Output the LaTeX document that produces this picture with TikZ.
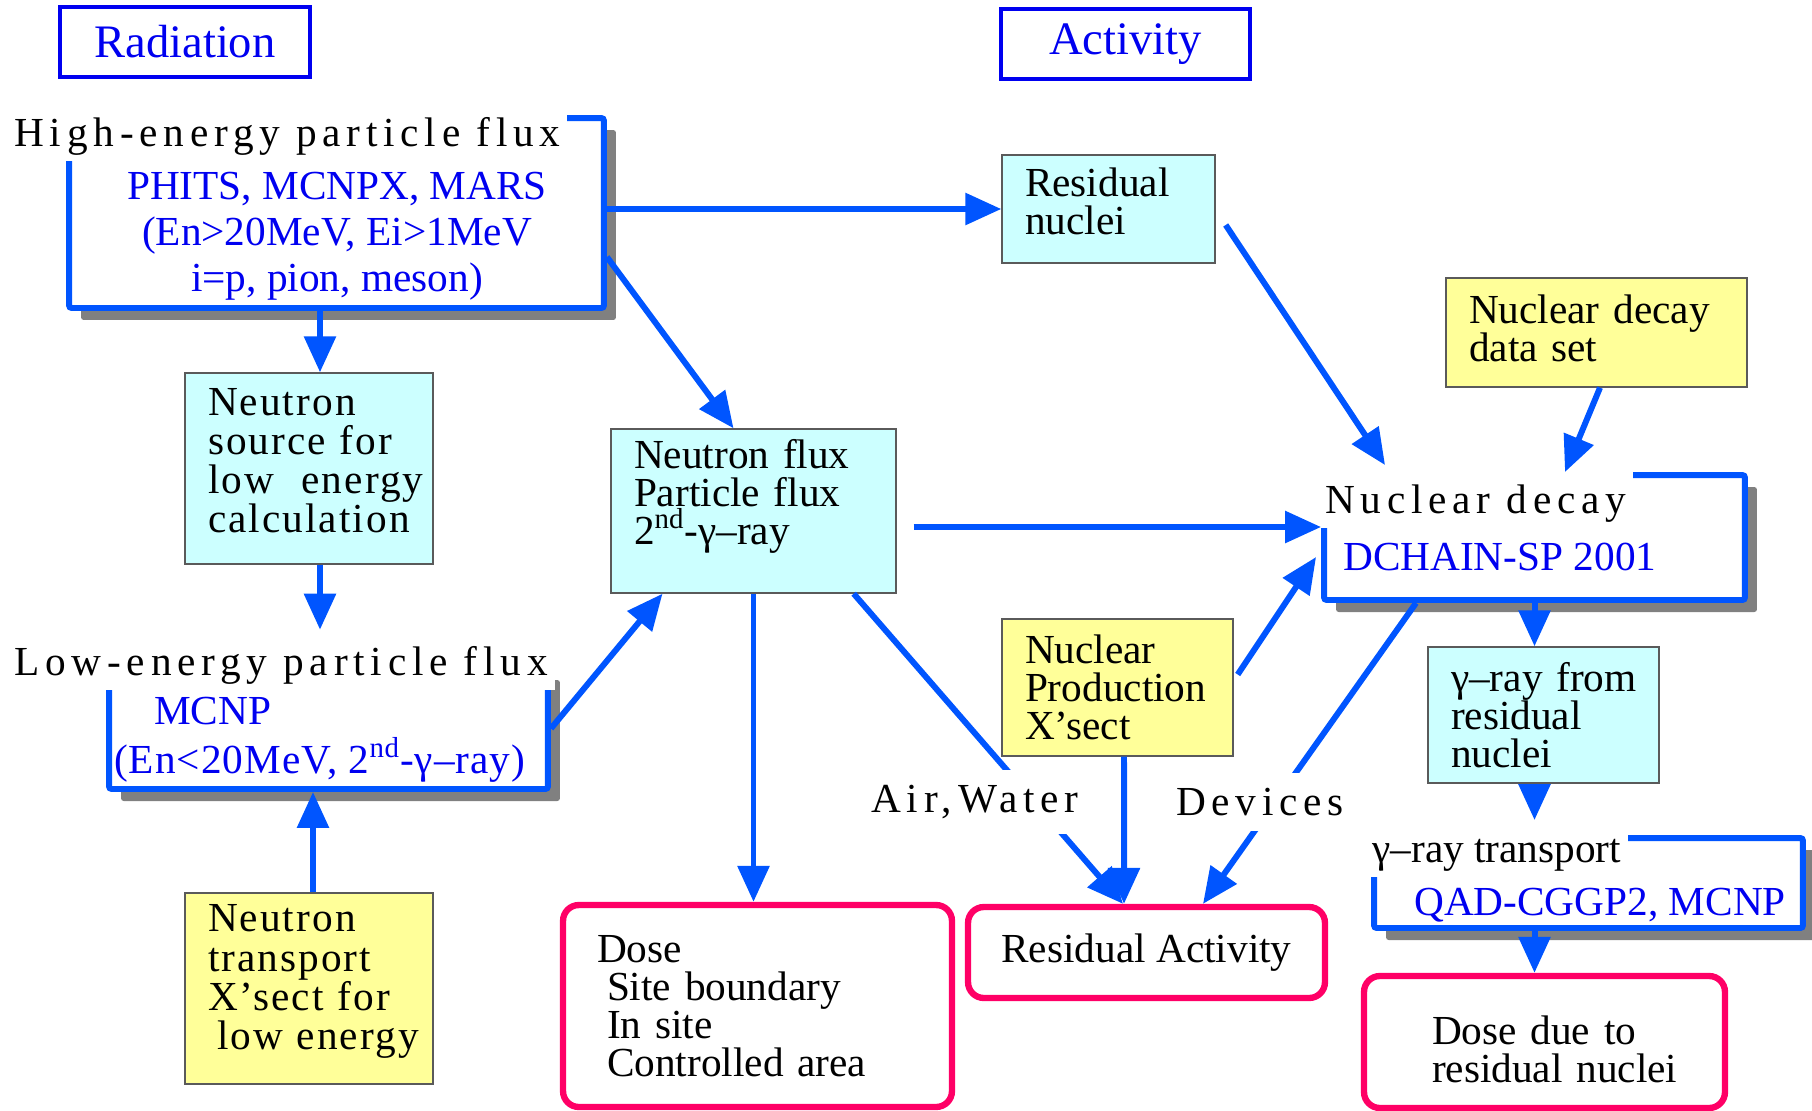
\documentclass[tikz,border=0pt]{standalone}
\usepackage{fontspec}
\setmainfont{Liberation Serif}
\newfontfamily\widefont[LetterSpace=14]{Liberation Serif}
\newfontfamily\halfwidefont[LetterSpace=5]{Liberation Serif}
\newfontfamily\slightwidefont[LetterSpace=2.5]{Liberation Serif}
\usepackage{xcolor}
\usepackage{tikz}
\usetikzlibrary{positioning, arrows.meta, shadows}

\definecolor{arrblue}{RGB}{0,85,255}
\definecolor{txtblue}{RGB}{0,0,240}
\definecolor{cyanfill}{RGB}{204,255,255}
\definecolor{yelfill}{RGB}{255,255,153}
\definecolor{edgegray}{RGB}{90,90,90}
\definecolor{shadegray}{RGB}{128,128,128}
\definecolor{dosepink}{RGB}{255,0,102}

\begin{document}
\begin{tikzpicture}[x=0.02cm, y=-0.02cm, font=\fontsize{23.5}{21.6}\selectfont]
	\tikzstyle{tag}=[draw=txtblue, line width=1.8pt, text=txtblue, font=\fontsize{26.5}{30}\selectfont, minimum width=5cm, minimum height=1.4cm]
	\tikzstyle{frame}=[draw=arrblue, line width=3.4pt, fill=white, rounded corners=1.5pt, inner sep=0pt, drop shadow={shadow xshift=0.24cm, shadow yshift=-0.24cm, opacity=1, fill=shadegray}]
	\tikzstyle{ttl}=[fill=white, inner xsep=4pt, inner ysep=0pt, text height=0.9cm, text depth=0.3cm, anchor=base west, font=\fontsize{23.5}{21.6}\widefont]
	\tikzstyle{code}=[text=txtblue, align=left]
	\tikzstyle{cbox}=[draw=edgegray, line width=0.8pt, fill=cyanfill, align=left, inner xsep=0.46cm, execute at begin node={\hyphenpenalty=10000\exhyphenpenalty=10000}]
	\tikzstyle{ybox}=[cbox, fill=yelfill]
	\tikzstyle{rbox}=[draw=dosepink, line width=3.6pt, rounded corners=9pt, align=left, execute at begin node={\hyphenpenalty=10000\exhyphenpenalty=10000}]
	\tikzstyle{lbl}=[fill=white, inner xsep=2pt, inner ysep=0.3cm, font=\fontsize{23.5}{21.6}\widefont]
	\tikzstyle{arr}=[draw=arrblue, line width=3.4pt, -{Triangle[length=0.72cm, width=0.62cm]}]
	\useasboundingbox (0,0) rectangle (1812,1110);

	% headings
	\node[tag] (rad) at (185,42) {Radiation};
	\node[tag, minimum width=4.98cm] (act) at (1125.5,44) {Activity};

	% framed codes
	\node[frame, minimum width=10.7cm, minimum height=3.8cm] (high) at (336.5,213) {};
	\node[code, align=center, font=\fontsize{23.5}{26.1}\selectfont] (highcode) at (337,236.5) {PHITS, MCNPX, MARS\\(En>20MeV, Ei>1MeV\\i=p, pion, meson)};
	\node[ttl] (hightitle) at (7,146) {High-energy particle flux};

	\node[frame, minimum width=8.78cm, minimum height=2.42cm] (low) at (328.5,728.5) {};
	\node[code, anchor=west, font=\fontsize{23.5}{27.9}\selectfont] (lowcode) at (108,740) {\hspace*{0.8cm}MCNP\\{\slightwidefont (En<20MeV, 2\textsuperscript{nd}-γ–ray)}};
	\node[ttl] (lowtitle) at (7,675) {Low-energy particle flux};

	\node[frame, minimum width=8.42cm, minimum height=2.5cm] (dec) at (1534.5,537.5) {};
	\node[code, anchor=west] (deccode) at (1337,557) {DCHAIN-SP 2001};
	\node[ttl] (dectitle) at (1318,513) {Nuclear decay};

	\node[frame, minimum width=8.58cm, minimum height=1.8cm] (gtr) at (1588.5,883) {};
	\node[code, anchor=west] (gtrcode) at (1408,905) {QAD-CGGP2, MCNP};
	\node[ttl, font=\fontsize{23.5}{21.6}\selectfont] (gtrtitle) at (1365,862) {γ–ray transport};

	% boxes
	\node[cbox, font=\fontsize{23.5}{22.3}\halfwidefont, minimum width=4.96cm, minimum height=3.82cm, text width=4.04cm] (src) at (309,468.5) {Neutron\\source~for\\low~~energy\\calculation\\[-0.46cm]\mbox{}};
	\node[ybox, font=\fontsize{23.5}{22.3}\halfwidefont, minimum width=4.96cm, minimum height=3.82cm, text width=4.04cm] (trn) at (309,988.5) {Neutron\\transport\\X’sect~for\\\hspace*{0.18cm}low~energy\\[-0.33cm]\mbox{}};
	\node[cbox, minimum width=5.7cm, minimum height=3.28cm, text width=4.78cm] (flux) at (753.5,511) {Neutron~flux\\Particle~flux\\2\textsuperscript{nd}-γ–ray\\\mbox{}};
	\node[cbox, minimum width=4.26cm, minimum height=2.16cm, text width=3.34cm] (res) at (1108.5,209) {Residual\\nuclei\\[-0.45cm]\mbox{}};
	\node[ybox, minimum width=6.02cm, minimum height=2.18cm, text width=5.1cm] (dds) at (1596.5,332.5) {Nuclear~decay\\data~set\\[-0.58cm]\mbox{}};
	\node[ybox, minimum width=4.62cm, minimum height=2.74cm, text width=3.7cm] (npx) at (1117.5,687.5) {Nuclear\\Production\\X’sect};
	\node[cbox, minimum width=4.62cm, minimum height=2.72cm, text width=3.7cm] (gam) at (1543.5,715) {γ–ray~from\\residual\\nuclei};

	% results
	\node[rbox, minimum width=7.78cm, minimum height=4.04cm, inner xsep=0.68cm, text width=6.42cm] (dose) at (757.5,1006) {Dose\\\hspace*{0.2cm}Site~boundary\\\hspace*{0.2cm}In~site\\\hspace*{0.2cm}Controlled~area};
	\node[rbox, align=center, minimum width=7.14cm, minimum height=1.82cm] (ract) at (1146.5,952.5) {Residual Activity};
	\node[rbox, minimum width=7.22cm, minimum height=2.64cm, inner xsep=1.36cm, text width=4.5cm, text height=0.86cm] (ddr) at (1544.5,1042) {Dose~due~to\\residual~nuclei};

	% connectors
	\coordinate (srctop) at ([xshift=0.22cm]src.north);
	\coordinate (srcbot) at ([xshift=0.22cm]src.south);
	\coordinate (trntop) at ([xshift=0.08cm]trn.north);
	\coordinate (fluxout) at ([shift={(0.34cm,-0.32cm)}]flux.east);
	\coordinate (gtrin) at ([yshift=0.3cm]gtr.north);
	\draw[arr] (high.east |- res.west) -- (res.west);
	\draw[arr] ([yshift=-0.88cm]high.east) -- ([xshift=-0.4cm]flux.north);
	\draw[arr] (srctop |- high.south) -- (srctop);
	\draw[arr] (srcbot) -- (srcbot |- lowtitle.north);
	\draw[arr] (trntop) -- (trntop |- low.south);
	\draw[arr] (low.east) -- ([xshift=-1.82cm]flux.south);
	\draw[arr] (fluxout) -- (fluxout -| dec.west);
	\draw[arr] (flux.south) -- (flux.south |- dose.north);
	\draw[arr] ([xshift=-0.86cm]flux.south east) -- ([xshift=-0.47cm]ract.north);
	\draw[arr] ([shift={(0.2cm,-0.32cm)}]res.east) -- ([shift={(1.28cm,0.14cm)}]dec.north west);
	\draw[arr] ([xshift=0.07cm]dds.south) -- ([xshift=0.61cm]dec.north);
	\draw[arr] ([shift={(0.08cm,0.26cm)}]npx.east) -- ([shift={(-0.1cm,-0.39cm)}]dec.west);
	\draw[arr] ([xshift=0.13cm]npx.south) -- ([xshift=-0.45cm]ract.north);
	\draw[arr] ([xshift=-2.37cm]dec.south) -- ([xshift=1.13cm]ract.north);
	\draw[arr] (dec.south) -- (dec.south |- gam.north);
	\draw[arr] (dec.south |- gam.south) -- (dec.south |- gtrin);
	\draw[arr] (dec.south |- gtr.south) -- (dec.south |- ddr.north);

	% media labels
	\node[lbl] (air) at (975,802) {Air,Water};
	\node[lbl] (dev) at (1260,802) {Devices};
\end{tikzpicture}
\end{document}
